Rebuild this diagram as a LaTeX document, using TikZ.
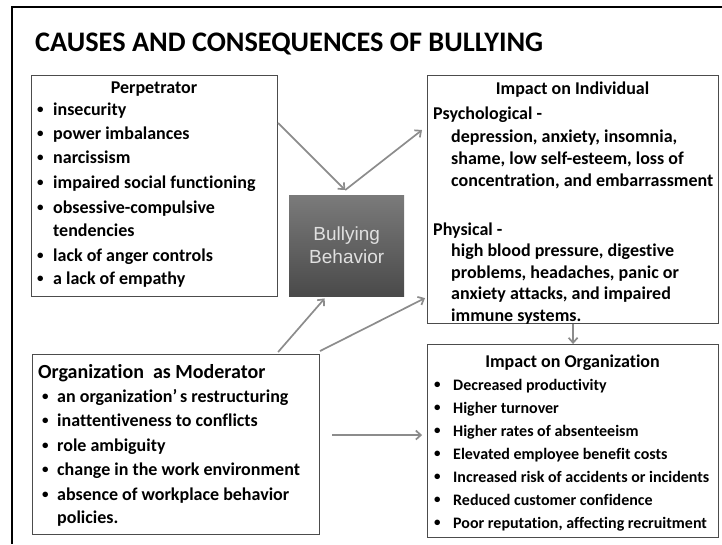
\documentclass[tikz,border=0pt]{standalone}
\usepackage{fontspec}
\setmainfont{Carlito}[Ligatures={NoCommon,NoContextual}]
\newfontfamily\arialfont{Liberation Sans}
\usetikzlibrary{arrows.meta}

\tikzset{
    box/.style={draw=black!70, line width=1.1pt, fill=white, anchor=north west, inner sep=0pt},
    arr/.style={-{Straight Barb[length=5pt,width=9pt]}, draw=black!45, line width=1.7pt},
    txt/.style={anchor=base west, inner sep=0pt, font=\bfseries\fontsize{18}{20}\selectfont},
    small/.style={txt, font=\bfseries\fontsize{16}{18}\selectfont},
    dot/.style={txt, yshift=1.6pt, font=\bfseries\fontsize{13}{13}\selectfont},
    head/.style={txt, anchor=base}
}

\begin{document}
\begin{tikzpicture}[x=1pt, y=-1pt]
    \useasboundingbox (0,0) rectangle (722,544);

    % Frame and title
    \draw [line width=2.8pt] (722,7) -- (12,7) -- (12,544);
    \node [anchor=base west, inner sep=0pt, font=\bfseries\fontsize{28.3}{30}\selectfont] (title) at (35,51) {CAUSES AND CONSEQUENCES OF BULLYING};

    % Boxes {perp, bully, indiv, moder, orgimp}
    \node [box, minimum width=246pt, minimum height=221pt] (perp)   at (31,75)  {};
    \node [box, minimum width=291pt, minimum height=248pt] (indiv)  at (427,75) {};
    \node [box, minimum width=287pt, minimum height=180pt] (moder)  at (32,354) {};
    \node [box, minimum width=291pt, minimum height=193pt] (orgimp) at (427,344) {};
    \node [anchor=north west, minimum width=115pt, minimum height=101pt, top color=black!52, bottom color=black!71,
           align=center, text=black!12, font=\arialfont\fontsize{19}{23}\selectfont] (bully) at (289,195) {Bullying\\Behavior};

    % Perpetrator
    \node [head] (perp-h) at (154,93) {Perpetrator};
    \foreach \y/\t [count=\i] in {115/insecurity, 139/power imbalances, 163/narcissism, 188/impaired social functioning,
                                  213/obsessive-compulsive, 261/lack of anger controls, 284/a lack of empathy} {
        \node [dot] (perp-b\i) at (37,\y) {\textbullet};
        \node [txt] (perp-\i)  at (53,\y) {\t};
    }
    \node [txt] (perp-w) at (53,236) {tendencies};

    % Impact on Individual
    \node [head] (indiv-h) at (572.5,94) {Impact on Individual};
    \node [txt] (indiv-psy) at (433,119) {Psychological -};
    \node [txt] (indiv-phy) at (433,235) {Physical -};
    \foreach \y/\t [count=\i] in {142/{depression, anxiety, insomnia,}, 164/{shame, low self-esteem, loss of},
                                  186/{concentration, and embarrassment}, 256/{high blood pressure, digestive},
                                  278/{problems, headaches, panic or}, 299/{anxiety attacks, and impaired},
                                  321/immune systems.} {
        \node [txt] (indiv-\i) at (451,\y) {\t};
    }

    % Organization as Moderator
    \node [txt, font=\bfseries\fontsize{20}{22}\selectfont] (moder-h) at (38,378) {Organization\ \ as Moderator};
    \foreach \y/\t [count=\i] in {402/an organization’\,s restructuring, 426/inattentiveness to conflicts, 451/role ambiguity,
                                  475/change in the work environment, 500/absence of workplace behavior} {
        \node [dot] (moder-b\i) at (42,\y) {\textbullet};
        \node [txt] (moder-\i)  at (57,\y) {\t};
    }
    \node [txt] (moder-w) at (57,523) {policies.};

    % Impact on Organization
    \node [head] (orgimp-h) at (572.5,367) {Impact on Organization};
    \foreach \y/\t [count=\i] in {390/Decreased productivity, 413/Higher turnover, 436/Higher rates of absenteeism,
                                  459/Elevated employee benefit costs, 482/Increased risk of accidents or incidents,
                                  505/Reduced customer confidence, 528/{Poor reputation, affecting recruitment}} {
        \node [dot] (orgimp-b\i) at (434,\y) {\textbullet};
        \node [small] (orgimp-\i)  at (453,\y) {\t};
    }

    % Paths
    \coordinate (meet) at ([xshift=-1.5pt,yshift=5pt]bully.north);
    \draw [arr] ([yshift=-48pt]perp.north east) -- (meet);
    \draw [arr] (meet) -- ([xshift=-5pt,yshift=-55pt]indiv.north west);
    \draw [arr] ([xshift=-42pt,yshift=2pt]moder.north east) -- ([xshift=-22pt,yshift=-2pt]bully.south);
    \draw [arr] ([yshift=3pt]moder.north east) -- ([xshift=-2pt,yshift=26pt]indiv.south west);
    \draw [arr] (indiv.south) -- (orgimp.north);
    \draw [arr] ([xshift=12pt,yshift=9.5pt]moder.east) -- ++(90,0);
\end{tikzpicture}
\end{document}
